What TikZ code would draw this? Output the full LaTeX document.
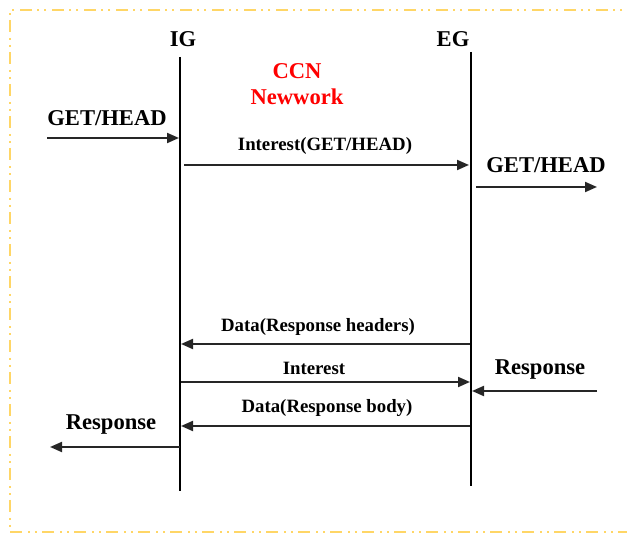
\documentclass[tikz,border=0pt]{standalone}
\usepackage{fontspec}
\setmainfont{Liberation Serif}
\usetikzlibrary{arrows.meta}
\definecolor{frameyellow}{RGB}{255,214,102}
\definecolor{ccnred}{RGB}{255,0,0}

\begin{document}
\begin{tikzpicture}[
  x=0.5pt, y=-0.5pt,
  lifeline/.style={line width=1.1pt, black},
  msg/.style={line width=1pt, black!85, -{Triangle[length=6pt, width=5pt]}},
  big label/.style={font=\fontsize{11.3}{13}\selectfont\bfseries, inner sep=0pt},
  msg label/.style={font=\fontsize{9.4}{11}\selectfont\bfseries, inner sep=0pt},
  frame/.style={frameyellow, line width=1pt,
    dash pattern=on 6pt off 3pt on 1pt off 2.5pt on 1pt off 2.5pt}
]

  \useasboundingbox (0,0) rectangle (627,533);

  % Yellow frame
  \coordinate (f1) at (640,10);
  \coordinate (f2) at (10,10);
  \coordinate (f3) at (10,532);
  \coordinate (f4) at (640,532);
  \draw[frame] (f1) -- (f2) -- (f3) -- (f4);

  % Lifelines
  \node[big label] (ig) at (183,39) {IG};
  \node[big label] (eg) at (453,39) {EG};
  \coordinate (ig top) at (180,57);
  \coordinate (ig bot) at (180,491);
  \coordinate (eg top) at (471,52);
  \coordinate (eg bot) at (471,486);
  \draw[lifeline] (ig top) -- (ig bot);
  \draw[lifeline] (eg top) -- (eg bot);

  % Network name
  \node[big label, text=ccnred, align=center] (ccn) at (297,84) {CCN\\Newwork};

  % Request side
  \coordinate (get in) at (47,138);
  \coordinate (get ig) at (179,138);
  \node[big label] (get l) at (107,118) {GET/HEAD};
  \draw[msg] (get in) -- (get ig);

  \coordinate (int a) at (184,165);
  \coordinate (int b) at (469,165);
  \node[msg label] (int l) at (325,146) {Interest(GET/HEAD)};
  \draw[msg] (int a) -- (int b);

  \coordinate (get eg) at (476,187);
  \coordinate (get out) at (597,187);
  \node[big label] (get r) at (546,165) {GET/HEAD};
  \draw[msg] (get eg) -- (get out);

  % Response side
  \coordinate (hd a) at (470,344);
  \coordinate (hd b) at (181,344);
  \node[msg label] (hd l) at (318,327) {Data(Response headers)};
  \draw[msg] (hd a) -- (hd b);

  \coordinate (int2 a) at (181,382);
  \coordinate (int2 b) at (470,382);
  \node[msg label] (int2 l) at (314,368) {Interest};
  \draw[msg] (int2 a) -- (int2 b);

  \coordinate (rsp in) at (597,391);
  \coordinate (rsp eg) at (472,391);
  \node[big label] (rsp r) at (540,370) {Response};
  \draw[msg] (rsp in) -- (rsp eg);

  \coordinate (bd a) at (470,426);
  \coordinate (bd b) at (181,426);
  \node[msg label] (bd l) at (327,408) {Data(Response body)};
  \draw[msg] (bd a) -- (bd b);

  \coordinate (rsp ig) at (180,447);
  \coordinate (rsp out) at (50,447);
  \node[big label] (rsp l) at (111,425) {Response};
  \draw[msg] (rsp ig) -- (rsp out);

\end{tikzpicture}
\end{document}
